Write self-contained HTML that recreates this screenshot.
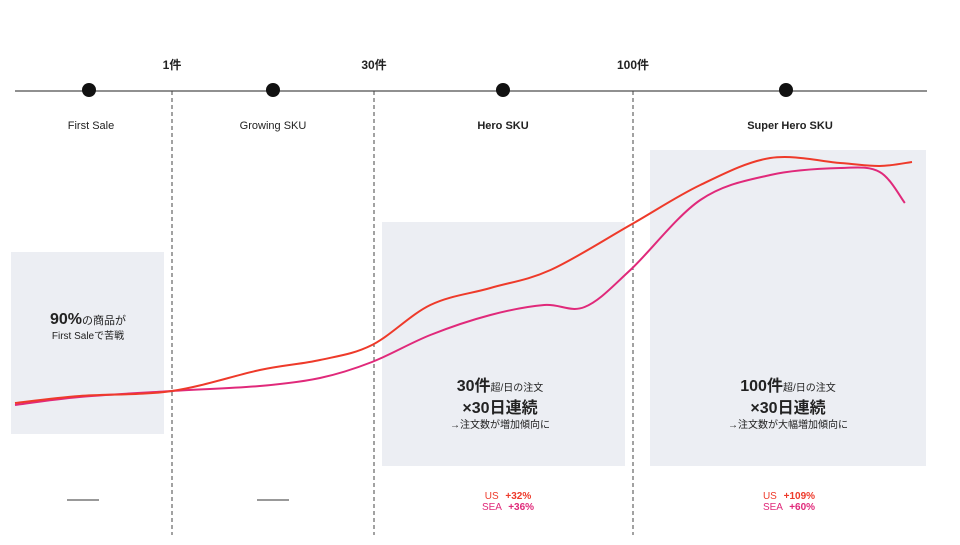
<!DOCTYPE html>
<html><head><meta charset="utf-8"><style>
body{margin:0;background:#fff}
svg text{font-family:"Liberation Sans","Noto Sans CJK JP",sans-serif;fill:#222}
</style></head><body>
<svg width="960" height="540" viewBox="0 0 960 540">
<g>
<rect x="11" y="252" width="153" height="182" fill="#eceef3"/>
<rect x="382" y="222" width="243" height="244" fill="#eceef3"/>
<rect x="650" y="150" width="276" height="316" fill="#eceef3"/>
</g>
<line x1="15" y1="91" x2="927" y2="91" stroke="#222" stroke-width="1"/>
<g stroke="#444" stroke-dasharray="4,3" stroke-width="1">
<line x1="172" y1="91" x2="172" y2="535"/>
<line x1="374" y1="91" x2="374" y2="535"/>
<line x1="633" y1="91" x2="633" y2="535"/>
</g>
<g font-size="12" font-weight="bold" text-anchor="middle">
<text x="172" y="69">1件</text>
<text x="374" y="69">30件</text>
<text x="633" y="69">100件</text>
</g>
<g fill="#111">
<circle cx="89" cy="90" r="7"/>
<circle cx="273" cy="90" r="7"/>
<circle cx="503" cy="90" r="7"/>
<circle cx="786" cy="90" r="7"/>
</g>
<g font-size="11" text-anchor="middle">
<text x="91" y="129">First Sale</text>
<text x="273" y="129">Growing SKU</text>
<text x="503" y="129" font-weight="bold">Hero SKU</text>
<text x="790" y="129" font-weight="bold">Super Hero SKU</text>
</g>
<g id="lines"></g>
<g text-anchor="middle">
<text x="88" y="324" font-size="16" font-weight="bold">90%<tspan font-size="11" font-weight="normal">の商品が</tspan></text>
<text x="88" y="339" font-size="10">First Saleで苦戦</text>
<text x="500" y="391" font-size="16" font-weight="bold">30件<tspan font-size="10" font-weight="normal">超/日の注文</tspan></text>
<text x="500" y="413" font-size="16" font-weight="bold">×30日連続</text>
<text x="500" y="428" font-size="10">→注文数が増加傾向に</text>
<text x="788" y="391" font-size="16" font-weight="bold">100件<tspan font-size="10" font-weight="normal">超/日の注文</tspan></text>
<text x="788" y="413" font-size="16" font-weight="bold">×30日連続</text>
<text x="788" y="428" font-size="10">→注文数が大幅増加傾向に</text>
</g>
<line x1="67" y1="500" x2="99" y2="500" stroke="#333"/>
<line x1="257" y1="500" x2="289" y2="500" stroke="#333"/>
<g font-size="10" text-anchor="middle">
<text x="508" y="499" style="fill:#ee3a2a">US <tspan font-weight="bold" dx="4">+32%</tspan></text>
<text x="508" y="510" style="fill:#e0297a">SEA <tspan font-weight="bold" dx="4">+36%</tspan></text>
<text x="789" y="499" style="fill:#ee3a2a">US <tspan font-weight="bold" dx="4">+109%</tspan></text>
<text x="789" y="510" style="fill:#e0297a">SEA <tspan font-weight="bold" dx="4">+60%</tspan></text>
</g>
</svg>
<script>
const usX=[0,7.2,17.5,27.3,34,39.8,46.3,53,59.7,68.6,76.4,84.2,92,96.4,100];
const usV=[0.8,3.6,5.6,14,18,24,40,46.8,54,72,88,98.8,96.8,95.6,97.2];
const seaX=[0,7.2,17.5,27.3,34,39.8,46.3,53,59,63.5,68.6,76.4,84.2,92,96.4,99.2];
const seaV=[0,3.2,5.6,7.6,10.8,17.2,28,36,40,39.2,54,82,92,94.8,93.2,80.8];
function xs(v){return 15+v*8.97;}
function ys(v){return 405-v*2.5;}
function path(X,V){
  const p=X.map((x,i)=>[xs(x),ys(V[i])]);
  let d='M'+p[0][0]+','+p[0][1];
  for(let i=0;i<p.length-1;i++){
    const p0=p[Math.max(i-1,0)],p1=p[i],p2=p[i+1],p3=p[Math.min(i+2,p.length-1)];
    const c1=[p1[0]+(p2[0]-p0[0])/6,p1[1]+(p2[1]-p0[1])/6];
    const c2=[p2[0]-(p3[0]-p1[0])/6,p2[1]-(p3[1]-p1[1])/6];
    d+=' C'+c1.join(',')+' '+c2.join(',')+' '+p2.join(',');
  }
  return d;
}
const g=document.getElementById('lines');
const ns='http://www.w3.org/2000/svg';
const sea=document.createElementNS(ns,'path');


sea.setAttribute('d',path(seaX,seaV));
sea.setAttribute('fill','none');sea.setAttribute('stroke','#e0297a');sea.setAttribute('stroke-width','2');
g.appendChild(sea);
const us=document.createElementNS(ns,'path');


us.setAttribute('d',path(usX,usV));
us.setAttribute('fill','none');us.setAttribute('stroke','#ee3a2a');us.setAttribute('stroke-width','2');
g.appendChild(us);
</script>
</body></html>
